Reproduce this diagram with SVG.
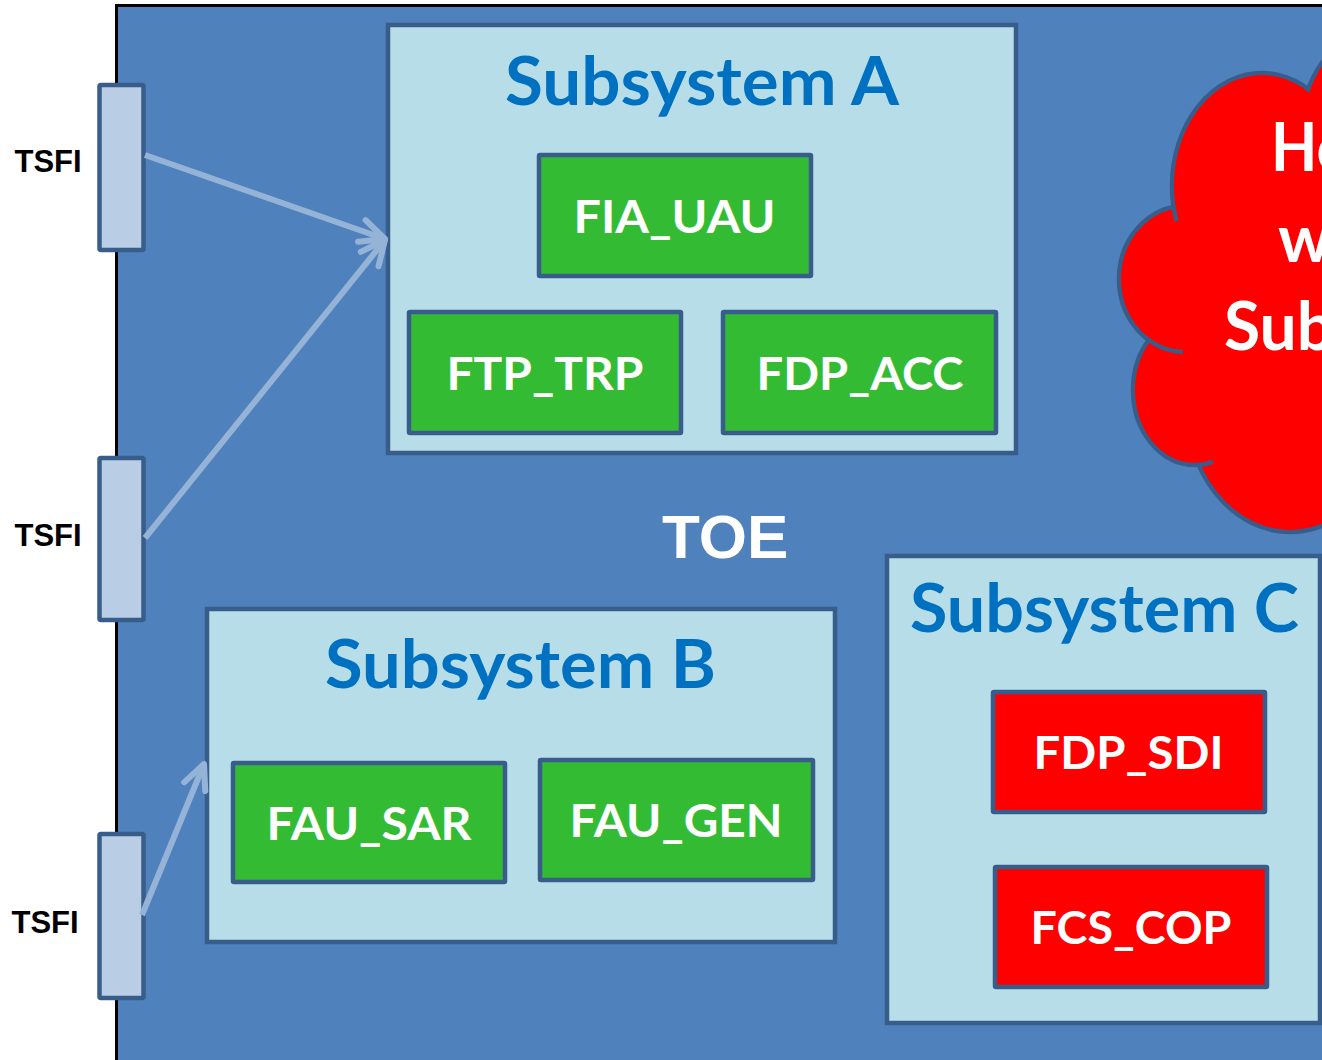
<svg xmlns="http://www.w3.org/2000/svg" width="1322" height="1060" viewBox="0 0 1322 1060">
  <defs>
    <style>
      .toe{fill:#4F81BD;stroke:#000;stroke-width:3}
      .sub{fill:#B7DEE8;stroke:#385D8A;stroke-width:4.5}
      .fn{fill:#33BC33;stroke:#385D8A;stroke-width:4.5}
      .fnr{fill:#FF0000;stroke:#385D8A;stroke-width:4.5}
      .port{fill:#B9CDE5;stroke:#385D8A;stroke-width:4.5}
      .title{font-family:Lato,"Open Sans","Liberation Sans",sans-serif;font-weight:700;font-size:66px;fill:#0070C0}
      .lbl{font-family:Lato,"Open Sans","Liberation Sans",sans-serif;font-weight:700;font-size:46px;fill:#FFFFFF}
      .cloud-t{font-family:Lato,"Open Sans","Liberation Sans",sans-serif;font-weight:700;font-size:66px;fill:#FFFFFF}
      .tsfi{font-family:"Liberation Sans",Arial,sans-serif;font-weight:700;font-size:31px;fill:#000000}
      .toe-t{font-family:"Liberation Sans",Arial,sans-serif;font-weight:700;font-size:62px;fill:#FFFFFF}
      .link{fill:none;stroke:#95B3D7;stroke-width:6;stroke-linecap:butt}
      .lobe{fill:#FF0000;stroke:#385D8A;stroke-width:4.5}
      .lobe-fill{fill:#FF0000;stroke:none}
      .tail{fill:none;stroke:#385D8A;stroke-width:4.5;stroke-linecap:butt}
    </style>
    <marker id="head" markerUnits="userSpaceOnUse" viewBox="-32 -18 36 36" markerWidth="36" markerHeight="36" refX="0" refY="0" orient="auto">
      <path d="M-24.5,-11.4 L0,0 L-24.5,11.4" fill="none" stroke="#95B3D7" stroke-width="6" stroke-linecap="round" stroke-linejoin="round"/>
    </marker>
  </defs>

  <rect x="0" y="0" width="1322" height="1060" fill="#FFFFFF"/>

  <!-- TOE boundary -->
  <g id="toe">
    <rect class="toe" x="116.5" y="5.5" width="1260" height="1100"/>
    <text class="toe-t" x="662" y="558">TOE</text>
  </g>

  <!-- cloud: stroked lobes, then fills to hide inner outline, then inner arc tails -->
  <g id="cloud">
    <ellipse class="lobe" cx="1262" cy="186" rx="90" ry="113"/>
    <ellipse class="lobe" cx="1360" cy="140" rx="60" ry="100"/>
    <ellipse class="lobe" cx="1185" cy="279" rx="66" ry="73"/>
    <ellipse class="lobe" cx="1195" cy="390" rx="62" ry="75"/>
    <ellipse class="lobe" cx="1290" cy="400" rx="105" ry="132"/>
    <ellipse class="lobe-fill" cx="1262" cy="186" rx="87.75" ry="110.75"/>
    <ellipse class="lobe-fill" cx="1360" cy="140" rx="57.75" ry="97.75"/>
    <ellipse class="lobe-fill" cx="1185" cy="279" rx="63.75" ry="70.75"/>
    <ellipse class="lobe-fill" cx="1195" cy="390" rx="59.75" ry="72.75"/>
    <ellipse class="lobe-fill" cx="1290" cy="400" rx="102.75" ry="129.75"/>
    <ellipse class="lobe-fill" cx="1280" cy="300" rx="100" ry="200"/>
    <path class="tail" d="M1173.3,205 A90,113 0 0 0 1176.4,221"/>
    <path class="tail" d="M1150,341 A66,73 0 0 0 1183,352"/>
    <path class="tail" d="M1198,464.9 A62,75 0 0 0 1213,461.8"/>
    <text class="cloud-t" x="1271" y="171" textLength="80" lengthAdjust="spacingAndGlyphs">Ho</text>
    <text class="cloud-t" x="1278" y="262">w</text>
    <text class="cloud-t" x="1224" y="350">Sub</text>
  </g>

  <!-- Subsystem A -->
  <g id="subsystem-a">
    <rect class="sub" x="388" y="25" width="628" height="428"/>
    <text class="title" x="505" y="105" textLength="394" lengthAdjust="spacingAndGlyphs">Subsystem A</text>
  </g>
  <g id="fia-uau">
    <rect class="fn" x="539" y="155" width="272" height="121" rx="1"/>
    <text class="lbl" x="573.5" y="233" textLength="202" lengthAdjust="spacingAndGlyphs">FIA_UAU</text>
  </g>
  <g id="ftp-trp">
    <rect class="fn" x="409" y="312" width="272" height="121" rx="1"/>
    <text class="lbl" x="446.5" y="390" textLength="197" lengthAdjust="spacingAndGlyphs">FTP_TRP</text>
  </g>
  <g id="fdp-acc">
    <rect class="fn" x="723" y="312" width="273" height="121" rx="1"/>
    <text class="lbl" x="756.5" y="390" textLength="207" lengthAdjust="spacingAndGlyphs">FDP_ACC</text>
  </g>

  <!-- Subsystem B -->
  <g id="subsystem-b">
    <rect class="sub" x="207" y="609" width="628" height="333"/>
    <text class="title" x="325" y="688" textLength="391" lengthAdjust="spacingAndGlyphs">Subsystem B</text>
  </g>
  <g id="fau-sar">
    <rect class="fn" x="233" y="763" width="272" height="119" rx="1"/>
    <text class="lbl" x="266.5" y="840" textLength="205" lengthAdjust="spacingAndGlyphs">FAU_SAR</text>
  </g>
  <g id="fau-gen">
    <rect class="fn" x="540" y="760" width="273" height="120" rx="1"/>
    <text class="lbl" x="569.5" y="837" textLength="213" lengthAdjust="spacingAndGlyphs">FAU_GEN</text>
  </g>

  <!-- Subsystem C -->
  <g id="subsystem-c">
    <rect class="sub" x="887" y="556" width="433" height="467"/>
    <text class="title" x="910" y="632" textLength="389" lengthAdjust="spacingAndGlyphs">Subsystem C</text>
  </g>
  <g id="fdp-sdi">
    <rect class="fnr" x="993" y="692" width="272" height="120" rx="1"/>
    <text class="lbl" x="1033.5" y="769" textLength="190" lengthAdjust="spacingAndGlyphs">FDP_SDI</text>
  </g>
  <g id="fcs-cop">
    <rect class="fnr" x="995" y="867" width="272" height="120" rx="1"/>
    <text class="lbl" x="1030.5" y="944" textLength="201" lengthAdjust="spacingAndGlyphs">FCS_COP</text>
  </g>

  <!-- TSFI ports -->
  <g id="tsfi-1">
    <rect class="port" x="99.5" y="85" width="44" height="165" rx="1.5"/>
    <text class="tsfi" x="14.5" y="172">TSFI</text>
  </g>
  <g id="tsfi-2">
    <rect class="port" x="99.5" y="458" width="44" height="162" rx="1.5"/>
    <text class="tsfi" x="14.5" y="546">TSFI</text>
  </g>
  <g id="tsfi-3">
    <rect class="port" x="99.5" y="834" width="44" height="164" rx="1.5"/>
    <text class="tsfi" x="11.5" y="933">TSFI</text>
  </g>

  <!-- connectors -->
  <g id="connectors">
    <path class="link" d="M145,155 L385,239" marker-end="url(#head)"/>
    <path class="link" d="M145,538 L385,240" marker-end="url(#head)"/>
    <path class="link" d="M142,915 L204,764" marker-end="url(#head)"/>
  </g>
</svg>
